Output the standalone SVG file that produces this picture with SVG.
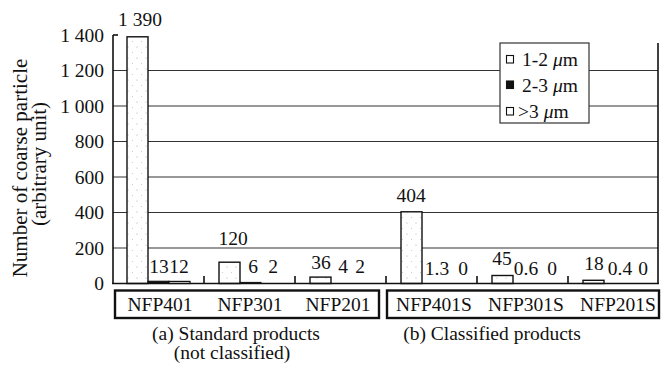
<svg xmlns="http://www.w3.org/2000/svg" width="661" height="377" viewBox="0 0 661 377">
<defs>
<pattern id="stip" width="9" height="11" patternUnits="userSpaceOnUse">
<rect width="9" height="11" fill="#fff"/>
<circle cx="2" cy="3" r="0.6" fill="#aaa"/>
<circle cx="6.5" cy="8.5" r="0.5" fill="#bbb"/>
</pattern>
</defs>
<style>
text{font-family:"Liberation Serif","Times New Roman",serif;fill:#111;font-size:19.5px}
.tl{text-anchor:end}
.yt{font-size:21px;text-anchor:middle}
.grid{stroke:#333;stroke-width:1.2;fill:none}
.ax{stroke:#111;stroke-width:1.6;fill:none}
.b12{fill:url(#stip);stroke:#111;stroke-width:1.4}
.b23{fill:#111;stroke:#111;stroke-width:1}
.b3{fill:#fff;stroke:#111;stroke-width:1.2}
.box{fill:none;stroke:#111;stroke-width:2.4}
.vl{text-anchor:middle}
</style>
<rect width="661" height="377" fill="#fff"/>
<g id="axes">
<g id="gridlines">
<line class="grid" x1="113" y1="248" x2="658" y2="248"/>
<line class="grid" x1="113" y1="212.5" x2="658" y2="212.5"/>
<line class="grid" x1="113" y1="177" x2="658" y2="177"/>
<line class="grid" x1="113" y1="141.5" x2="658" y2="141.5"/>
<line class="grid" x1="113" y1="106" x2="658" y2="106"/>
<line class="grid" x1="113" y1="70.5" x2="658" y2="70.5"/>
</g>
<line class="ax" x1="113" y1="35" x2="113" y2="284"/>
<line class="ax" x1="113" y1="35" x2="118" y2="35"/>
<line class="ax" x1="658" y1="43" x2="658" y2="284"/>
<g id="yticks">
<text class="tl" x="104" y="42">1 400</text>
<text class="tl" x="104" y="77">1 200</text>
<text class="tl" x="104" y="113">1 000</text>
<text class="tl" x="104" y="148">800</text>
<text class="tl" x="104" y="184">600</text>
<text class="tl" x="104" y="219">400</text>
<text class="tl" x="104" y="255">200</text>
<text class="tl" x="104" y="290">0</text>
</g>
<g id="ytitle">
<text class="yt" transform="translate(27,168) rotate(-90)">Number of coarse particle</text>
<text class="yt" transform="translate(46,164) rotate(-90)">(arbitrary unit)</text>
</g>
</g>
<g id="bars">
<g id="NFP401">
<rect class="b12" x="127" y="36.8" width="21" height="246.7"/>
<rect class="b23" x="148" y="281.2" width="21" height="2.3"/>
<rect class="b3" x="169" y="281.4" width="21" height="2.1"/>
<text class="vl" x="140" y="26">1 390</text>
<text class="vl" x="159" y="273">13</text>
<text class="vl" x="179" y="273">12</text>
</g>
<g id="NFP301">
<rect class="b12" x="219" y="262.2" width="21" height="21.3"/>
<rect class="b23" x="240" y="282.4" width="21" height="1.1"/>
<text class="vl" x="233" y="245">120</text>
<text class="vl" x="253" y="273">6</text>
<text class="vl" x="273" y="273">2</text>
</g>
<g id="NFP201">
<rect class="b12" x="310" y="277.1" width="21" height="6.4"/>
<text class="vl" x="321" y="269">36</text>
<text class="vl" x="343" y="273">4</text>
<text class="vl" x="360" y="273">2</text>
</g>
<g id="NFP401S">
<rect class="b12" x="401" y="211.8" width="21" height="71.7"/>
<text class="vl" x="411" y="202">404</text>
<text class="vl" x="437" y="275">1.3</text>
<text class="vl" x="463" y="275">0</text>
</g>
<g id="NFP301S">
<rect class="b12" x="492" y="275.5" width="21" height="8"/>
<text class="vl" x="502" y="265">45</text>
<text class="vl" x="526" y="275">0.6</text>
<text class="vl" x="552" y="275">0</text>
</g>
<g id="NFP201S">
<rect class="b12" x="583" y="280.3" width="21" height="3.2"/>
<text class="vl" x="594" y="270">18</text>
<text class="vl" x="620" y="275">0.4</text>
<text class="vl" x="643" y="275">0</text>
</g>
</g>
<g id="xaxis">
<line class="ax" x1="112" y1="283.5" x2="659" y2="283.5" stroke-width="2.2"/>
<line class="ax" x1="204" y1="276" x2="204" y2="284"/>
<line class="ax" x1="295" y1="276" x2="295" y2="284"/>
<line class="ax" x1="386" y1="276" x2="386" y2="284"/>
<line class="ax" x1="477" y1="276" x2="477" y2="284"/>
<line class="ax" x1="568" y1="276" x2="568" y2="284"/>
</g>
<g id="legend">
<rect x="500" y="43" width="89" height="80" fill="#fff" stroke="#333" stroke-width="1.2"/>
<rect x="506.5" y="55.5" width="7" height="7.5" fill="#fff" stroke="#111" stroke-width="1.1"/>
<rect x="506.5" y="81" width="7" height="7.5" fill="#111" stroke="#111" stroke-width="1.1"/>
<rect x="506.5" y="107.5" width="7" height="7.5" fill="#fff" stroke="#111" stroke-width="1.1"/>
<text x="522" y="66">1-2 <tspan font-style="italic">μ</tspan>m</text>
<text x="522" y="92">2-3 <tspan font-style="italic">μ</tspan>m</text>
<text x="518" y="118">&gt;3 <tspan font-style="italic">μ</tspan>m</text>
</g>
<g id="categories">
<g id="group-a">
<rect class="box" x="115" y="290.5" width="264" height="27.5"/>
<text class="vl" x="160" y="311">NFP401</text>
<text class="vl" x="250" y="311">NFP301</text>
<text class="vl" x="338" y="311">NFP201</text>
<text class="vl" x="236" y="340">(a) Standard products</text>
<text class="vl" x="232" y="359">(not classified)</text>
</g>
<g id="group-b">
<rect class="box" x="387" y="290.5" width="272" height="27.5"/>
<text class="vl" x="434" y="311">NFP401S</text>
<text class="vl" x="526" y="311">NFP301S</text>
<text class="vl" x="618" y="311">NFP201S</text>
<text class="vl" x="492" y="340">(b) Classified products</text>
</g>
</g>
</svg>
